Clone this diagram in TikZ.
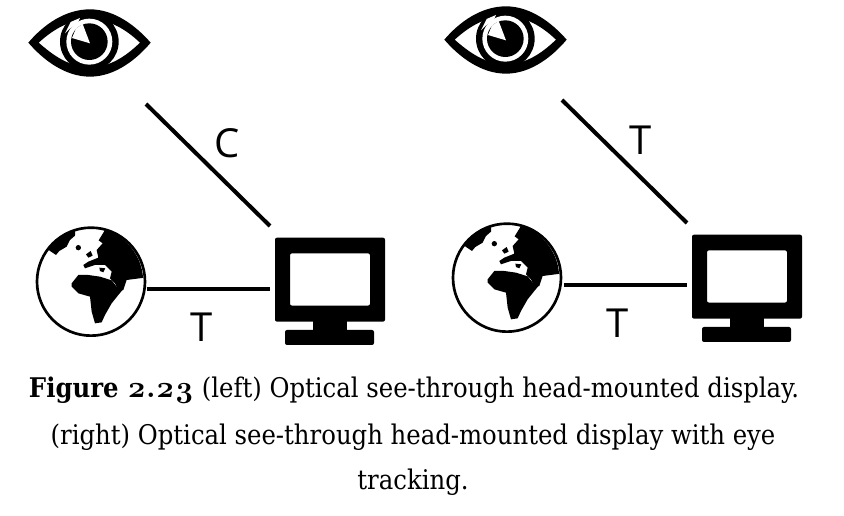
\documentclass[tikz,border=0pt]{standalone}
\usepackage{fontspec}
\setmainfont{DejaVu Serif Condensed}
\newfontfamily\lblfont{Open Sans}
\newfontfamily\numfont[Numbers=OldStyle]{Latin Modern Roman}
\tikzset{
  link/.style={line width=3pt},
  lbl/.style={font=\lblfont\fontsize{30}{30}\selectfont,inner sep=0pt},
  captext/.style={font=\fontsize{20.3}{24}\selectfont,inner sep=0pt,text=black},
}
\newcommand{\eyeicon}[2]{%
\begin{scope}[shift={(#1,#2)},scale=1/3]
  \fill[even odd rule] (55,128) .. controls (100,75) and (165,28) .. (240,28) .. controls (315,28) and (380,80) .. (422,128)
    .. controls (380,178) and (315,230) .. (240,230) .. controls (165,230) and (100,180) .. (55,128) -- cycle
    (86,128) .. controls (130,88) and (180,58) .. (240,58) .. controls (300,58) and (350,90) .. (390,128)
    .. controls (350,167) and (300,202) .. (240,202) .. controls (180,202) and (130,167) .. (86,128) -- cycle;
  \fill (238,125) circle (88);
  \fill[white] (238,125) circle (69);
  \fill (238,125) circle (55);
  \fill[white] (240,130) -- (186,114) -- (198,86) -- (218,72) -- cycle;
  \fill[white] (165,100) -- (182,66) -- (210,54) -- (204,68) -- (180,85) -- cycle;
\end{scope}}
\newcommand{\globeicon}[2]{%
\begin{scope}[shift={(#1,#2)},scale=1/3]
  \fill[white] (213,200) circle (162);
  \draw[line width=2pt] (213,200) circle (162);
  \fill (83,103) arc[start angle=-143,end angle=-107,radius=162] -- (165,62) -- (150,75) -- (140,95) -- (118,108) -- (108,120) -- cycle;
  \fill (255,45) arc[start angle=-73,end angle=-4,radius=162] -- (320,195) -- (310,225) -- (296,228) -- (285,205) -- (270,190) -- (275,170) -- (255,150) -- (225,150) -- (195,160) -- (190,150) -- (205,140) -- (235,128) -- (230,105) -- (248,85) -- (236,76) -- cycle;
  \fill (155,205) -- (175,180) -- (205,180) -- (240,185) -- (275,196) -- (290,215) -- (310,222) -- (295,240) -- (275,265) -- (255,300) -- (245,322) -- (225,325) -- (215,290) -- (210,245) -- (175,235) -- (155,215) -- cycle;
  \fill (175,98) circle (8);
  \fill (198,118) -- (212,108) -- (218,122) -- (205,128) -- cycle;
  \fill (238,158) -- (256,160) -- (250,172) -- (240,168) -- cycle;
\end{scope}}
\newcommand{\monitoricon}[2]{%
\begin{scope}[shift={(#1,#2)},scale=1/3]
  \fill[rounded corners=1.5pt,even odd rule] (45,38) rectangle (375,290) (90,85) rectangle (330,242);
  \fill (160,285) rectangle (262,320);
  \fill[rounded corners=1.5pt] (75,315) rectangle (342,360);
\end{scope}}
\begin{document}
\begin{tikzpicture}[x=0.75pt,y=-0.75pt]
\useasboundingbox (0,0) rectangle (844,516);
\fill[white] (0,0) rectangle (844,516);
\eyeicon{10}{0}
\globeicon{20}{215}
\monitoricon{260}{225}
\eyeicon{426}{-3}
\globeicon{436}{211}
\monitoricon{677}{222}
\coordinate (eyeL) at (146,104);
\coordinate (monLa) at (270,226);
\coordinate (globeL) at (147,289);
\coordinate (monLb) at (270,289);
\coordinate (eyeR) at (562,100);
\coordinate (monRa) at (687,223);
\coordinate (globeR) at (564,285);
\coordinate (monRb) at (687,285);
\draw[link] (eyeL) -- (monLa);
\draw[link] (globeL) -- (monLb);
\draw[link] (eyeR) -- (monRa);
\draw[link] (globeR) -- (monRb);
\node[lbl] (c1) at (227,143) {C};
\node[lbl] (t1) at (202,327) {T};
\node[lbl] (t2) at (641,140) {T};
\node[lbl] (t3) at (618,323) {T};
\node[captext,anchor=base] (l1) at (414,398) {\textbf{Figure {\numfont\fontsize{23}{24}\selectfont 2.23}} (left) Optical see-through head-mounted display.};
\node[captext,anchor=base] (l2) at (413,445) {(right) Optical see-through head-mounted display with eye};
\node[captext,anchor=base] (l3) at (413,490) {tracking.};
\end{tikzpicture}
\end{document}
